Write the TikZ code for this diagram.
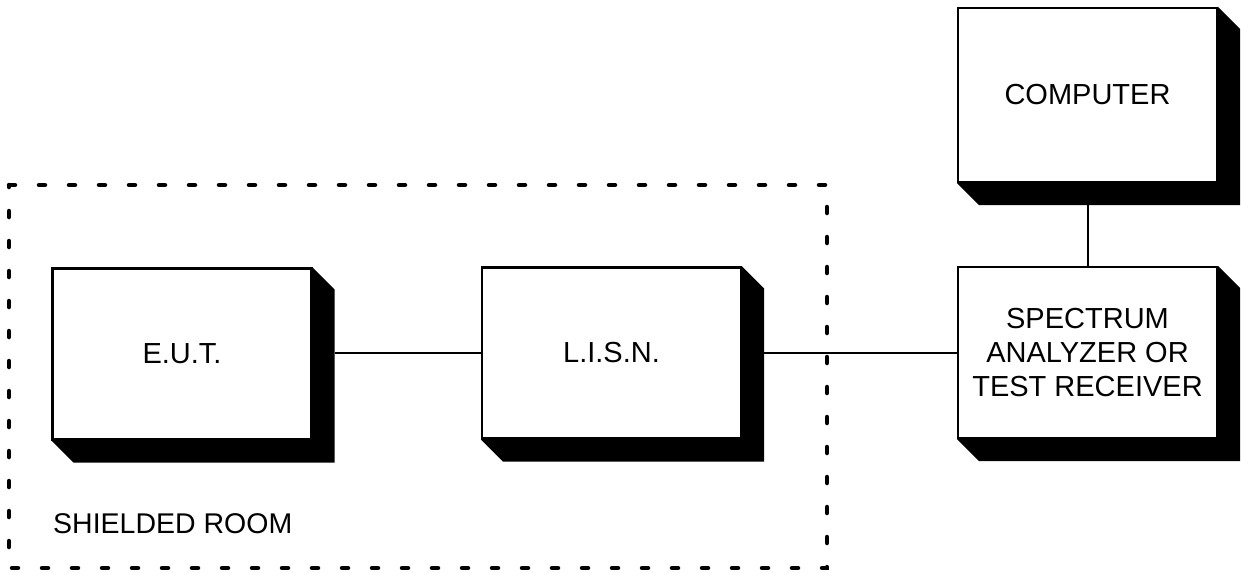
\documentclass[tikz,border=0pt]{standalone}
\usepackage{fontspec}
\setmainfont{Liberation Sans}
\begin{document}
\begin{tikzpicture}[x=1pt,y=-1pt,
  box/.style={draw=black,line width=2.2pt,fill=white,rectangle,inner sep=0pt,
    minimum width=259pt,minimum height=171pt,align=center,
    font=\fontsize{29}{34}\selectfont},
  shade/.style={fill=black},
  wire/.style={draw=black,line width=2pt},
  room/.style={draw=black,line width=4.5pt,line cap=round,dash pattern=on 6pt off 24pt}]
\useasboundingbox (0,0) rectangle (1241,573);
\draw[room] (9,185) -- (827,185) -- (827,568) -- (9,568) -- cycle;
\node[box] (eut) at (182,354) {E.U.T.};
\node[box] (lisn) at (611.5,353) {L.I.S.N.};
\node[box] (sa) at (1087.5,352.5) {SPECTRUM\\ANALYZER OR\\TEST RECEIVER};
\node[box,minimum height=174pt] (pc) at (1087.5,95) {COMPUTER};
\foreach \n in {eut,lisn,sa,pc}{
  \fill[shade] (\n.north east) -- ([shift={(22,22)}]\n.north east) -- ([shift={(22,22)}]\n.south east) -- ([shift={(22,22)}]\n.south west) -- (\n.south west) -- (\n.south east) -- cycle;
  \coordinate (\n R) at ([shift={(22,0)}]\n.east);
  \coordinate (\n B) at ([shift={(0,22)}]\n.south);
}
\draw[wire] (lisn.west -| eutR) -- (lisn.west);
\draw[wire] (lisnR) -- (lisnR -| sa.west);
\draw[wire] (pcB) -- (sa.north);
\node[anchor=base west,inner sep=0pt,font=\fontsize{28.5}{34}\selectfont] (lbl) at (53,533) {SHIELDED ROOM};
\end{tikzpicture}
\end{document}
